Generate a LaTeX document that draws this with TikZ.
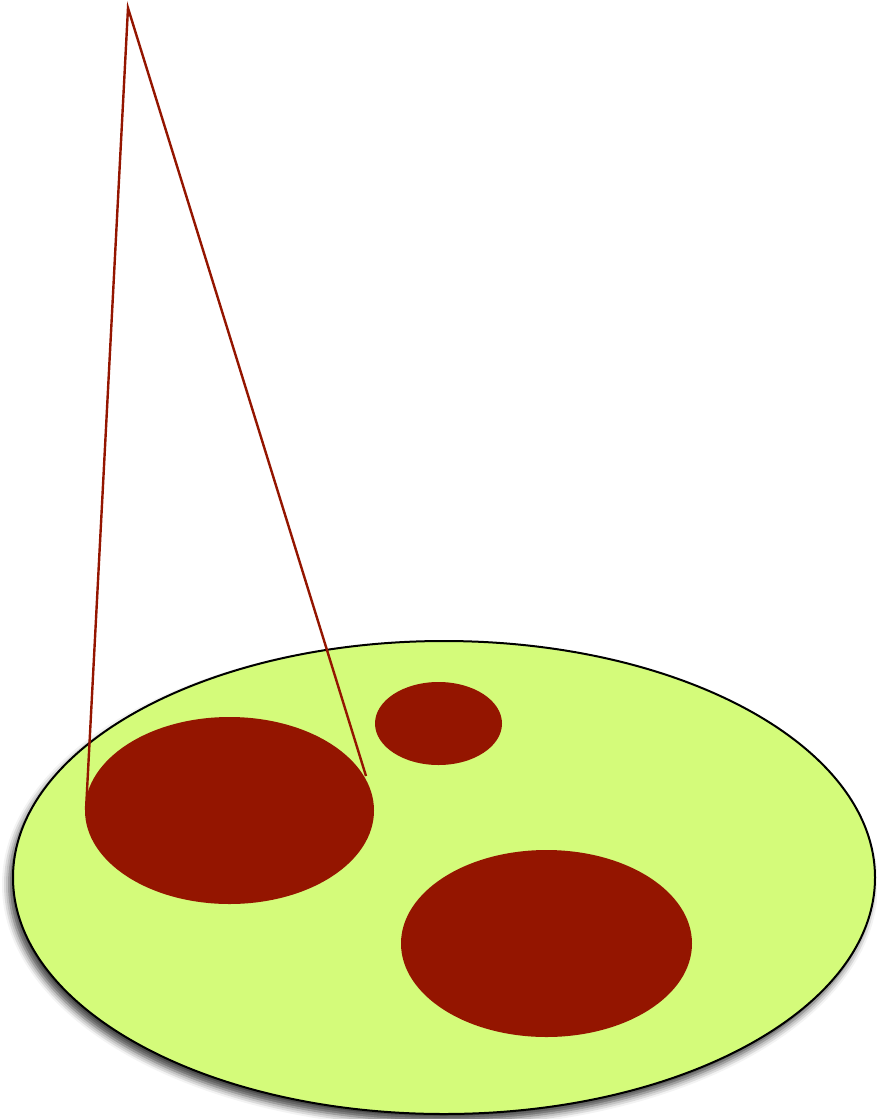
\documentclass[tikz,border=0pt]{standalone}
\usetikzlibrary{shadows.blur}
\definecolor{plate}{HTML}{D4FB7A}
\definecolor{spot}{HTML}{941500}
\begin{document}
\begin{tikzpicture}[x=1pt,y=-1pt,
  spotfill/.style={fill=spot,draw=none},
  conestyle/.style={draw=spot,line width=2.4pt,line join=miter}]
\useasboundingbox (0,0) rectangle (877,1119);
% plate with shadow
\path[fill=plate,draw=black,line width=2pt,
  blur shadow={shadow xshift=-4pt,shadow yshift=-7pt,shadow blur radius=7pt,shadow opacity=75}]
  (444,877.5) ellipse [x radius=431,y radius=236.5];
% spots
\fill[spotfill] (229.5,810.5) ellipse [x radius=144.5,y radius=93.5];
\fill[spotfill] (438.5,723.5) ellipse [x radius=63.5,y radius=41.5];
\fill[spotfill] (546.5,943.5) ellipse [x radius=145.5,y radius=93.5];
% cone
\coordinate (apex) at (128,8);
\coordinate (cl) at (86,810);
\coordinate (cr) at (366,776);
\draw[conestyle] (cl) -- (apex) -- (cr);
\end{tikzpicture}
\end{document}
